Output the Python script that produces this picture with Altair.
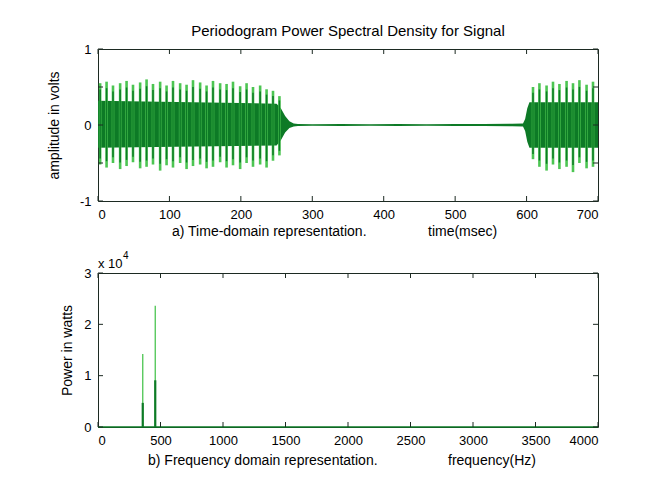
import altair as alt
import pandas as pd

# ---------------- data ----------------
# a) time-domain signal: tall beat spikes (ms, volts)
spike_t = [3, 12, 21, 31, 40, 49, 59, 68, 77, 87, 96, 105, 115, 124, 133, 143, 152,
           161, 171, 180, 189, 199, 208, 217, 227, 236, 245, 254,
           609, 618, 628, 637, 646, 656, 665, 674, 684, 693]
spike_hi = [0.55, 0.57, 0.52, 0.55, 0.58, 0.53, 0.56, 0.60, 0.54, 0.57, 0.52, 0.58, 0.55, 0.53,
            0.59, 0.56, 0.52, 0.58, 0.55, 0.54, 0.57, 0.51, 0.55, 0.50, 0.52, 0.47, 0.45, 0.38,
            0.50, 0.55, 0.52, 0.57, 0.54, 0.58, 0.55, 0.59, 0.53, 0.57]
spike_lo = [-0.52, -0.56, -0.50, -0.58, -0.54, -0.49, -0.57, -0.55, -0.52, -0.60, -0.53, -0.56,
            -0.50, -0.58, -0.54, -0.52, -0.57, -0.55, -0.49, -0.56, -0.53, -0.58, -0.50, -0.55,
            -0.52, -0.56, -0.47, -0.40,
            -0.45, -0.55, -0.60, -0.52, -0.58, -0.55, -0.62, -0.50, -0.57, -0.55]
# dense core envelope of the signal
env_t = [0, 250, 256, 262, 268, 274, 280, 300, 340, 380, 420, 460, 500, 540, 580, 595, 598, 601, 604, 700]
env_hi = [0.32, 0.28, 0.22, 0.12, 0.05, 0.02, 0.012, 0.010, 0.012, 0.010, 0.012, 0.010, 0.012,
          0.014, 0.016, 0.020, 0.08, 0.22, 0.30, 0.30]
env_lo = [-0.30, -0.27, -0.20, -0.10, -0.04, -0.02, -0.012, -0.010, -0.012, -0.010, -0.012,
          -0.010, -0.012, -0.014, -0.016, -0.020, -0.08, -0.22, -0.30, -0.30]
time_ticks = [0, 100, 200, 300, 400, 500, 600, 700]
amp_ticks = [-1, -0.5, 0, 0.5, 1]

# b) periodogram peaks (Hz, watts)
peak_f = [358, 458]
peak_light = [14200, 23600]
peak_dark = [4700, 9100]
base_f = [0, 4000]
base_p = [0, 0]
freq_ticks = [0, 500, 1000, 1500, 2000, 2500, 3000, 3500, 4000]
pow_ticks = [0, 10000, 20000, 30000]

top_labels = ["a) Time-domain representation.", "time(msec)"]
bot_labels = ["b) Frequency domain representation.", "frequency(Hz)"]

# ---------------- styling ----------------
DARK = "#0d7a26"
LIGHT = "#4cc552"
AX = "#1c2a22"
FONT = "Liberation Sans, Arial, sans-serif"
W, H1, H2 = 500, 152, 154
TL = 5

spikes = pd.DataFrame({"t": spike_t, "hi": spike_hi, "lo": spike_lo})
spikes["hi2"] = spikes["hi"] * 0.85
spikes["lo2"] = spikes["lo"] * 0.85
env = pd.DataFrame({"t": env_t, "hi": env_hi, "lo": env_lo})
tt = pd.DataFrame({"t": time_ticks})
at = pd.DataFrame({"a": amp_ticks})

xs1 = alt.Scale(domain=[0, 700], nice=False, zero=False)
ys1 = alt.Scale(domain=[-1, 1], nice=False)
lab_expr = "datum.value < 0 ? '-' + format(-datum.value, '~g') : format(datum.value, '~g')"

xax1 = alt.Axis(values=time_ticks, title=None, format="d")
yax1 = alt.Axis(values=amp_ticks, title="amplitude in volts", labelExpr=lab_expr, titlePadding=18)

band = alt.Chart(env).mark_area(color=DARK, opacity=1).encode(
    x=alt.X("t:Q", scale=xs1, axis=xax1),
    y=alt.Y("lo:Q", scale=ys1, axis=yax1),
    y2="hi:Q",
)
sp_light = alt.Chart(spikes).mark_rule(color=LIGHT, strokeWidth=2.6).encode(
    x="t:Q", y="lo:Q", y2="hi:Q")
sp_dark = alt.Chart(spikes).mark_rule(color=DARK, strokeWidth=1.5).encode(
    x="t:Q", y="lo2:Q", y2="hi2:Q")

def ticks(xdf, xf, ydf, yf, h):
    return [
        alt.Chart(xdf).mark_rule(color=AX).encode(x=f"{xf}:Q", y=alt.value(h), y2=alt.value(h - TL)),
        alt.Chart(xdf).mark_rule(color=AX).encode(x=f"{xf}:Q", y=alt.value(0), y2=alt.value(TL)),
        alt.Chart(ydf).mark_rule(color=AX).encode(y=f"{yf}:Q", x=alt.value(0), x2=alt.value(TL)),
        alt.Chart(ydf).mark_rule(color=AX).encode(y=f"{yf}:Q", x=alt.value(W), x2=alt.value(W - TL)),
    ]

def label(df, i, x, y, size=14):
    return alt.Chart(df.iloc[[i]]).mark_text(
        font=FONT, fontSize=size, align="left", baseline="middle", color="black"
    ).encode(text="s:N", x=alt.value(x), y=alt.value(y))

tl = pd.DataFrame({"s": top_labels})
t_lab1 = label(tl, 0, 74, H1 + 31)
t_lab2 = label(tl, 1, 330, H1 + 31)

top = alt.layer(band, sp_light, sp_dark, *ticks(tt, "t", at, "a", H1), t_lab1, t_lab2).properties(
    width=W, height=H1,
    title=alt.TitleParams("Periodogram Power Spectral Density for Signal", frame="group",
                          anchor="middle", font=FONT, fontSize=15, fontWeight="normal", offset=4),
)

# bottom panel
peaks = pd.DataFrame({"f": peak_f, "light": peak_light, "dark": peak_dark})
peaks["zero"] = 0
base = pd.DataFrame({"f": base_f, "p": base_p})
ft = pd.DataFrame({"f": freq_ticks})
pt = pd.DataFrame({"p": pow_ticks})
xs2 = alt.Scale(domain=[0, 4000], nice=False, zero=False)
ys2 = alt.Scale(domain=[0, 30000], nice=False)
xax2 = alt.Axis(values=freq_ticks, title=None, format="d")
yax2 = alt.Axis(values=pow_ticks, title="Power in watts", labelExpr="format(datum.value/10000, '~g')", titlePadding=9)

baseline = alt.Chart(base).mark_line(color=DARK, strokeWidth=1.5).encode(
    x=alt.X("f:Q", scale=xs2, axis=xax2), y=alt.Y("p:Q", scale=ys2, axis=yax2))
pk_light = alt.Chart(peaks).mark_rule(color=LIGHT, strokeWidth=1.3).encode(
    x="f:Q", y="zero:Q", y2="light:Q")
pk_dark = alt.Chart(peaks).mark_rule(color=DARK, strokeWidth=2.2).encode(
    x="f:Q", y="zero:Q", y2="dark:Q")

bl = pd.DataFrame({"s": bot_labels})
b_lab1 = label(bl, 0, 50, H2 + 34)
b_lab2 = label(bl, 1, 350, H2 + 34)
exp_df = pd.DataFrame({"s": ["x 10", "4"]})
e1 = label(exp_df, 0, 0, -9, 13)
e2 = label(exp_df, 1, 25, -17, 10)

bottom = alt.layer(baseline, pk_light, pk_dark, *ticks(ft, "f", pt, "p", H2), b_lab1, b_lab2, e1, e2).properties(
    width=W, height=H2)

chart = alt.vconcat(top, bottom, spacing=10).resolve_scale(x="independent", y="independent").properties(
    padding={"left": 46, "top": 23, "right": 5, "bottom": 5}
).configure(background="white").configure_view(
    stroke=AX, strokeWidth=1
).configure_axis(
    grid=False, domain=False, ticks=False, labelFont=FONT, labelFontSize=13, labelColor="black",
    labelPadding=7, titleFont=FONT, titleFontSize=14, titleFontWeight="normal", titleColor="black",
)

chart.save("out.html", embed_options={"renderer": "svg", "actions": False})
